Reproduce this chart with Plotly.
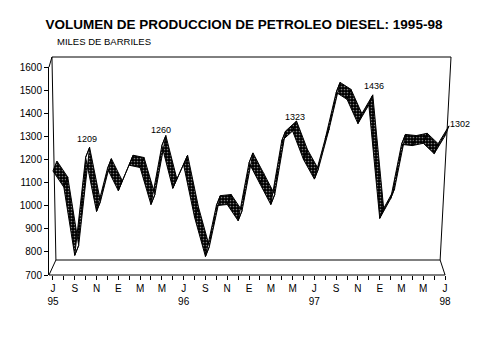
import plotly.graph_objects as go

# ---------------- data ----------------
month_letters = ["J", "A", "S", "O", "N", "D", "E", "F", "M", "A", "M", "J"]  # Jul..Jun
years = ["95", "96", "97", "98"]
values = [1150, 1080, 785, 1209, 975, 1160, 1065, 1175, 1165, 1005, 1260, 1075,
          1175, 950, 780, 1000, 1005, 935, 1185, 1095, 1005, 1280, 1323, 1200,
          1115, 1290, 1490, 1460, 1355, 1436, 945, 1030, 1265, 1260, 1270, 1225,
          1302]
label_idx = [3, 10, 22, 29, 36]
y_ticks = [700, 800, 900, 1000, 1100, 1200, 1300, 1400, 1500, 1600]

title = "VOLUMEN DE PRODUCCION DE PETROLEO DIESEL: 1995-98"
subtitle = "MILES DE BARRILES"

# ---------------- layout geometry (reference pixels) ----------------
OFF = 8                                   # page body margin
WREF, HREF = 479, 359
W, H = WREF - OFF, HREF - OFF
PL, PR, PT, PB = 44, 451, 67, 275          # plot area in reference pixels
X0PX, X36PX = 48, 445                        # pixel of first/last month
n = len(values)
ppm = (X36PX - X0PX) / (n - 1)
x_lo = -(X0PX - PL) / ppm
x_hi = (n - 1) + (PR - X36PX) / ppm
ymin, ymax = 700, 1600
ppu = (PB - PT) / (ymax - ymin)

def px(xp):
    return (xp - PL) / (PR - PL)

def py(yp):
    return (PB - yp) / (PB - PT)

# ribbon depth offset (pixels -> data units)
DXPX, DYPX = 4, 10
ddx = DXPX / ppm
ddy = DYPX / ppu

# tick labels
ticktext = []
for i in range(n):
    m = month_letters[i % 12]
    if i % 2 == 0:
        if i % 12 == 0:
            ticktext.append(m + "<br>" + years[i // 12])
        else:
            ticktext.append(m)
    else:
        ticktext.append("")

# ribbon polygons (one per segment)
rx, ry = [], []
for i in range(n - 1):
    a, b = values[i], values[i + 1]
    rx += [i, i + 1, i + 1 + ddx, i + ddx, i, None]
    ry += [a, b, b + ddy, a + ddy, a, None]

fig = go.Figure()
fig.add_trace(go.Scatter(
    x=rx, y=ry, mode="lines", fill="toself",
    line=dict(color="black", width=1),
    fillcolor="black",
    fillpattern=dict(shape=".", bgcolor="black", fgcolor="white",
                     size=3, solidity=0.25),
    hoverinfo="skip", showlegend=False,
))

FONT = "Liberation Sans, Arial, sans-serif"

annotations = []
shifts = {3: (1, 18), 10: (-1, 16), 22: (2, 14), 29: (5, 19), 36: (15, 12)}
for i in label_idx:
    xs, ys = shifts[i]
    annotations.append(dict(
        x=i, y=values[i], xref="x", yref="y", text=str(values[i]),
        showarrow=False, xshift=xs, yshift=ys,
        xanchor="center", yanchor="middle",
        font=dict(family=FONT, size=9, color="black")))

annotations.append(dict(
    x=px(50), y=py(41.5), xref="paper", yref="paper", text=subtitle,
    showarrow=False, xanchor="left", yanchor="middle",
    font=dict(family=FONT, size=9.5, color="black")))

# 3-D frame lines (paper coords)
frame = [
    ((44, 67), (47, 57)),      # top of value axis to back wall
    ((47, 57), (451, 57)),     # back wall top
    ((47, 57), (51, 260)),     # back wall left edge
    ((451, 57), (440, 260)),   # back wall right edge
    ((51, 260), (440, 260)),   # floor back edge
    ((44, 275), (51, 260)),    # floor left edge
    ((445, 275), (440, 260)),  # floor right edge
    ((44, 275), (445, 275)),   # category axis line
]
shapes = []
for (x1, y1), (x2, y2) in frame:
    shapes.append(dict(type="line", xref="paper", yref="paper",
                       x0=px(x1), y0=py(y1), x1=px(x2), y1=py(y2),
                       line=dict(color="black", width=1)))

fig.update_layout(
    width=W, height=H,
    margin=dict(l=PL - OFF, r=WREF - PR, t=PT - OFF, b=HREF - PB, pad=0),
    paper_bgcolor="white", plot_bgcolor="white",
    title=dict(text="<b>" + title + "</b>", xref="container", yref="container",
               x=(244 - OFF) / W, y=1 - (24 - OFF) / H,
               xanchor="center", yanchor="middle",
               font=dict(family=FONT, size=13.5, color="black")),
    xaxis=dict(range=[x_lo, x_hi], tickvals=list(range(n)), ticktext=ticktext,
               ticks="outside", ticklen=4, tickcolor="black", tickwidth=1,
               showline=False, showgrid=False, zeroline=False,
               tickfont=dict(family=FONT, size=10, color="black")),
    yaxis=dict(range=[ymin, ymax], tickvals=y_ticks,
               ticks="outside", ticklen=4, tickcolor="black", tickwidth=1,
               showline=True, linecolor="black", linewidth=1,
               showgrid=False, zeroline=False,
               tickfont=dict(family=FONT, size=10, color="black")),
    annotations=annotations,
    shapes=shapes,
    showlegend=False,
)

fig.write_html("out.html")
